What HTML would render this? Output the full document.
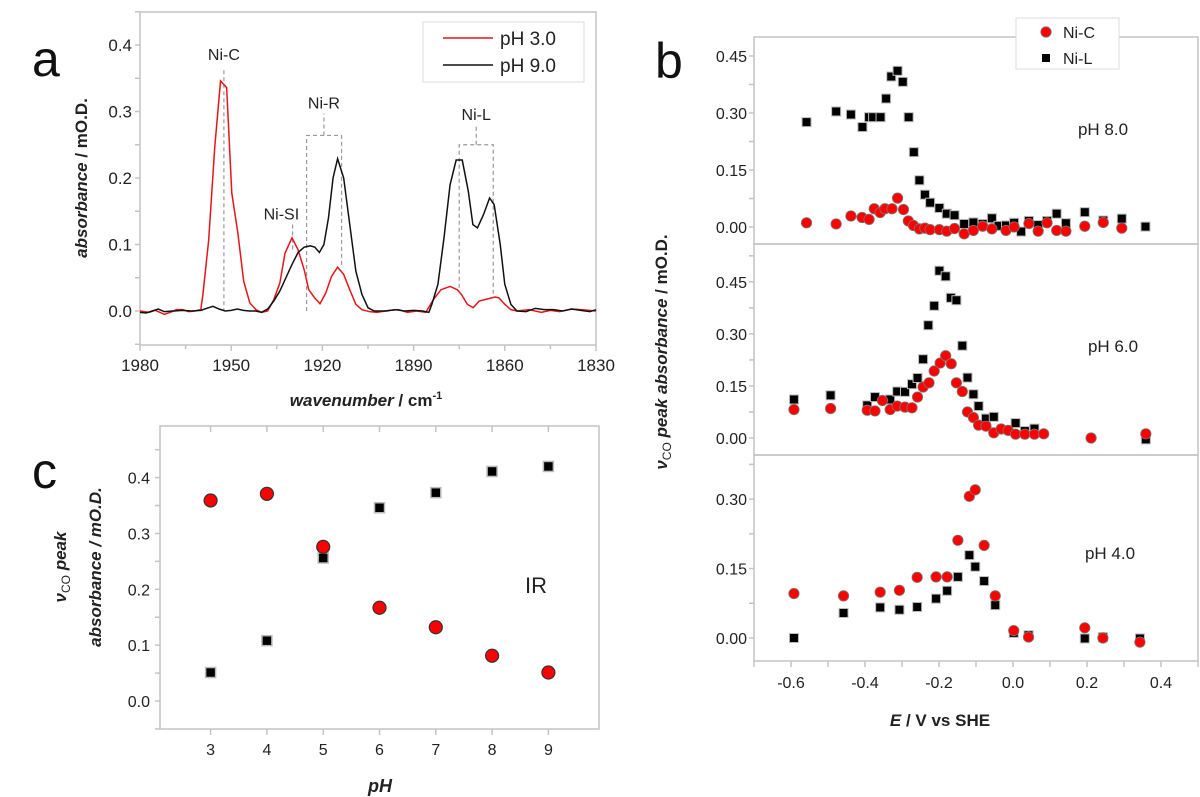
<!DOCTYPE html>
<html><head><meta charset="utf-8"><style>
html,body{margin:0;padding:0;background:#fff;}
svg{display:block;font-family:"Liberation Sans",Arial,sans-serif;}
</style></head><body>
<svg id="fig" width="1200" height="797" viewBox="0 0 1200 797">
<g id="pa"></g>
<g id="pb"></g>
<g id="pc"></g>
</svg>
<script>
// ---------- Panel a data ----------
const wnRed=[1980,1977,1975,1972,1970,1968,1966,1964,1962,1960,1959.3,1957.4,1955.4,1953.5,1951.5,1949.8,1947.8,1945.9,1943.9,1941.9,1940,1938,1936,1934,1932.3,1930,1928,1926,1924.5,1922.6,1920.8,1918.9,1917,1915,1913,1911,1909,1907,1904.5,1902,1898,1895,1892,1889,1886,1883.5,1881,1878,1875.6,1874.3,1872.3,1870.4,1868.4,1865.8,1863.2,1862,1860,1858,1856,1852,1848,1845,1842,1838,1835,1830];
const absRed=[0,-0.002,0.001,-0.005,-0.002,0.002,0.002,-0.001,0,0.002,0.025,0.107,0.247,0.346,0.336,0.177,0.117,0.045,0.0125,0.002,-0.002,0,0.017,0.042,0.087,0.11,0.092,0.062,0.032,0.02,0.011,0.027,0.052,0.066,0.055,0.032,0.01,0.002,-0.001,-0.002,0.001,0.002,-0.002,0,-0.002,0.017,0.032,0.037,0.032,0.025,0.01,0.005,0.015,0.018,0.021,0.02,0.01,0.002,0,0.002,-0.002,0.001,-0.001,0.003,0.002,0];
const wnBlack=[1980,1978,1976,1974,1972,1969,1966,1963,1960,1958,1956,1954,1952,1950,1948,1946,1944,1942,1940,1938,1936,1934,1932,1930,1928,1926,1924,1922.5,1921,1919.5,1918,1916.5,1915,1913,1911,1909,1907,1905,1903,1899,1896,1893,1890,1887,1885,1884,1882,1880,1878,1876,1874,1872,1870.5,1869,1867,1865,1863.5,1861.5,1860,1858,1856,1853,1850,1847,1844,1841,1838,1835,1832,1830];
const absBlack=[-0.002,-0.003,0,0.003,-0.001,0,0.001,0,0.001,0.004,0.007,0.003,0,0.001,0.003,0.001,0,0,-0.002,0.003,0.015,0.03,0.05,0.07,0.088,0.096,0.098,0.096,0.088,0.1,0.14,0.2,0.229,0.2,0.13,0.06,0.025,0.005,0,0,0.002,0,0.001,0,-0.002,0.01,0.04,0.11,0.19,0.227,0.227,0.18,0.13,0.125,0.145,0.17,0.16,0.1,0.04,0.01,0,-0.001,0.004,0.002,0.002,0,0.003,0.001,-0.001,0.002];
const aXTicks=[1980,1950,1920,1890,1860,1830];
const aYTicks=[0.0,0.1,0.2,0.3,0.4];
const aYLabels=["0.0","0.1","0.2","0.3","0.4"];

// ---------- Panel b data ----------
const b8LE=[-0.558,-0.478,-0.438,-0.407,-0.389,-0.378,-0.358,-0.343,-0.329,-0.312,-0.298,-0.282,-0.268,-0.253,-0.238,-0.224,-0.199,-0.179,-0.158,-0.132,-0.107,-0.082,-0.057,-0.039,-0.019,0.003,0.022,0.043,0.068,0.092,0.118,0.143,0.194,0.244,0.294,0.358];
const b8LV=[0.276,0.304,0.296,0.263,0.289,0.289,0.289,0.338,0.396,0.411,0.382,0.289,0.197,0.123,0.085,0.064,0.050,0.035,0.031,0.008,0.012,0.008,0.023,0.003,0.004,0.011,-0.012,0.016,0.005,0.016,0.035,0.010,0.039,0.017,0.022,0.001];
const b8CE=[-0.558,-0.478,-0.438,-0.408,-0.389,-0.375,-0.359,-0.346,-0.327,-0.312,-0.296,-0.283,-0.269,-0.253,-0.238,-0.224,-0.199,-0.179,-0.158,-0.132,-0.107,-0.082,-0.057,-0.019,0.003,0.043,0.068,0.092,0.118,0.143,0.194,0.244,0.294];
const b8CV=[0.011,0.008,0.029,0.025,0.020,0.048,0.038,0.048,0.048,0.076,0.046,0.016,0.004,-0.005,-0.003,-0.007,-0.007,-0.011,-0.004,-0.018,-0.009,0.002,-0.005,-0.009,0,0.009,-0.011,0.011,-0.009,-0.011,0.002,0.012,-0.003];
const b6LE=[-0.592,-0.493,-0.394,-0.373,-0.332,-0.313,-0.292,-0.273,-0.258,-0.243,-0.229,-0.213,-0.199,-0.182,-0.168,-0.153,-0.137,-0.123,-0.107,-0.093,-0.073,-0.052,0.007,0.032,0.058,0.359];
const b6LV=[0.111,0.123,0.094,0.118,0.111,0.134,0.133,0.155,0.173,0.227,0.325,0.381,0.482,0.466,0.404,0.397,0.266,0.174,0.126,0.092,0.056,0.061,0.043,0.020,0.027,-0.004];
const b6CE=[-0.592,-0.493,-0.394,-0.373,-0.353,-0.332,-0.313,-0.292,-0.273,-0.258,-0.243,-0.227,-0.213,-0.197,-0.182,-0.167,-0.153,-0.137,-0.123,-0.107,-0.093,-0.073,-0.052,-0.032,-0.013,0.007,0.032,0.058,0.083,0.211,0.359];
const b6CV=[0.082,0.085,0.080,0.078,0.108,0.082,0.092,0.089,0.087,0.118,0.147,0.159,0.193,0.216,0.237,0.214,0.159,0.134,0.075,0.059,0.037,0.034,0.015,0.026,0.022,0.011,0.011,0.011,0.012,0,0.012];
const b4E=[-0.592,-0.458,-0.359,-0.307,-0.259,-0.208,-0.178,-0.149,-0.118,-0.102,-0.078,-0.048,0.002,0.042,0.194,0.243,0.343];
const b4CV=[0.096,0.091,0.099,0.103,0.131,0.132,0.132,0.211,0.306,0.320,0.200,0.091,0.016,0.002,0.022,0,-0.009];
const b4LV=[0,0.054,0.066,0.061,0.067,0.085,0.102,0.132,0.179,0.154,0.123,0.071,0.011,0.006,-0.001,0.002,-0.001];
const bXTicks=[-0.6,-0.4,-0.2,0.0,0.2,0.4];
const bXLabels=["-0.6","-0.4","-0.2","0.0","0.2","0.4"];
const bYTicks8=[0,0.15,0.30,0.45];
const bYTicks4=[0,0.15,0.30];
const bYLabels=["0.00","0.15","0.30","0.45"];

// ---------- Panel c data ----------
const cPH=[3,4,5,6,7,8,9];
const cNiC=[0.359,0.371,0.276,0.167,0.132,0.081,0.051];
const cNiL=[0.051,0.108,0.256,0.346,0.373,0.411,0.420];
const cYTicks=[0.0,0.1,0.2,0.3,0.4];
const cYLabels=["0.0","0.1","0.2","0.3","0.4"];

const NS="http://www.w3.org/2000/svg";
function mk(parent,tag,attrs,txt){const e=document.createElementNS(NS,tag);for(const k in attrs)e.setAttribute(k,attrs[k]);if(txt!==undefined)e.textContent=txt;parent.appendChild(e);return e;}
const GRAY="#c4c4c4", TXT="#222";

// ===== Panel a =====
(function(){
const g=document.getElementById('pa');
const L=140,R=596,T=12,B=345;
const x=w=>L+(1980-w)/150*(R-L);
const y=v=>311-v*665;
const fr=mk(g,'rect',{x:L,y:T,width:R-L,height:B-T,fill:'none',stroke:GRAY,'stroke-width':1.5});

for(let w=1980;w>=1830;w-=15){const major=(w%30===0);mk(g,'line',{x1:x(w),x2:x(w),y1:B,y2:B+(major?6:4),stroke:GRAY,'stroke-width':1.5});}
aXTicks.forEach(w=>{const t=mk(g,'text',{x:x(w),y:B+26,'text-anchor':'middle','font-size':17,fill:TXT},String(w));
});
for(let v=-0.05;v<=0.451;v+=0.05){mk(g,'line',{x1:L-5,x2:L,y1:y(v),y2:y(v),stroke:GRAY,'stroke-width':1.5});}
aYTicks.forEach((v,i)=>{const t=mk(g,'text',{x:L-8,y:y(v)+6,'text-anchor':'end','font-size':17,fill:TXT},aYLabels[i]);
});
// annotation dashes
const dash={stroke:'#999','stroke-width':1.2,'stroke-dasharray':'4,3',fill:'none'};
const a1=mk(g,'path',Object.assign({d:`M${x(1952.4)},${y(0.362)}V${y(0)}`},dash));
const a2=mk(g,'path',Object.assign({d:`M${x(1929.8)},${y(0.13)}V${y(0.09)}`},dash));
const a3=mk(g,'path',Object.assign({d:`M${x(1925.2)},${y(0)}V${y(0.264)}H${x(1913.7)}V${y(0.065)}M${x(1919.5)},${y(0.264)}V${y(0.297)}`},dash));
const a4=mk(g,'path',Object.assign({d:`M${x(1875)},${y(0.035)}V${y(0.25)}H${x(1863.8)}V${y(0.02)}M${x(1869.4)},${y(0.25)}V${y(0.28)}`},dash));
const labs=[["Ni-C",1952.4,0.385],["Ni-SI",1933.5,0.145],["Ni-R",1919.5,0.312],["Ni-L",1869.4,0.295]];
labs.forEach(l=>{const t=mk(g,'text',{x:x(l[1]),y:y(l[2])+5,'text-anchor':'middle','font-size':16,fill:TXT},l[0]);
});
const pr=mk(g,'polyline',{points:wnRed.map((w,i)=>x(w)+','+y(absRed[i])).join(' '),fill:'none',stroke:'#e8141a','stroke-width':1.5});

const pbk=mk(g,'polyline',{points:wnBlack.map((w,i)=>x(w)+','+y(absBlack[i])).join(' '),fill:'none',stroke:'#111','stroke-width':1.5});

// legend
const lg=mk(g,'g',{});
mk(lg,'rect',{x:423,y:22,width:161,height:60,fill:'#fff',stroke:'#ddd','stroke-width':1});
mk(lg,'line',{x1:443,x2:493,y1:38,y2:38,stroke:'#e8141a','stroke-width':1.6});
mk(lg,'line',{x1:443,x2:493,y1:65,y2:65,stroke:'#111','stroke-width':1.6});
const l1=mk(lg,'text',{x:500,y:45,'font-size':19,fill:TXT},'pH 3.0');
const l2=mk(lg,'text',{x:500,y:72,'font-size':19,fill:TXT},'pH 9.0');
const yt=mk(g,'text',{transform:'translate(87,178) rotate(-90)','text-anchor':'middle','font-size':17,'font-weight':'bold',fill:TXT});

mk(yt,'tspan',{'font-style':'italic'},'absorbance');mk(yt,'tspan',{},' / mO.D.');
const xt=mk(g,'text',{x:366,y:406,'text-anchor':'middle','font-size':17,'font-weight':'bold',fill:TXT});

mk(xt,'tspan',{'font-style':'italic'},'wavenumber');mk(xt,'tspan',{},' / cm');mk(xt,'tspan',{'font-size':11,dy:-7},'-1');
const pl=mk(g,'text',{x:32,y:76,'font-size':50,fill:'#111'},'a');
})();

// ===== Panel b =====
(function(){
const g=document.getElementById('pb');
const L=754,R=1198;
const x=e=>1013+e*370;
const panels=[
 {top:37,bot:244,zero:227,sc:380,ticks:bYTicks8,lab:'pH 8.0',ly:135,lx:1103,L:[b8LE,b8LV],C:[b8CE,b8CV],name:'ph8'},
 {top:244,bot:455,zero:438,sc:347,ticks:bYTicks8,lab:'pH 6.0',ly:352,lx:1113,L:[b6LE,b6LV],C:[b6CE,b6CV],name:'ph6'},
 {top:455,bot:661,zero:638,sc:463,ticks:bYTicks4,lab:'pH 4.0',ly:559,lx:1110,L:[b4E,b4LV],C:[b4E,b4CV],name:'ph4'}];
panels.forEach(p=>{
 const y=v=>p.zero-v*p.sc;
 const pg=mk(g,'g',{});
 mk(pg,'rect',{x:L,y:p.top,width:R-L,height:p.bot-p.top,fill:'none',stroke:GRAY,'stroke-width':1.5});
 for(let v=0;y(v)>p.top+2;v+=0.075){mk(pg,'line',{x1:L-5,x2:L,y1:y(v),y2:y(v),stroke:GRAY,'stroke-width':1.5});}
 p.ticks.forEach((v,i)=>{const t=mk(pg,'text',{x:L-7,y:y(v)+6,'text-anchor':'end','font-size':16,fill:TXT},bYLabels[i]);
  });
 const lt=mk(pg,'text',{x:p.lx,y:p.ly,'text-anchor':'middle','font-size':17,fill:TXT},p.lab);
 
 p.L[0].forEach((e,i)=>{const r=mk(pg,'rect',{x:x(e)-4.5,y:y(p.L[1][i])-4.5,width:9,height:9,fill:'#000',stroke:'#bbb','stroke-width':1});
  });
 p.C[0].forEach((e,i)=>{const c=mk(pg,'circle',{cx:x(e),cy:y(p.C[1][i]),r:5.2,fill:'#f00',stroke:'#777','stroke-width':0.8});
  });
});
for(let e=-0.7;e<=0.5001;e+=0.1){mk(g,'line',{x1:x(e),x2:x(e),y1:661,y2:667,stroke:GRAY,'stroke-width':1.5});}
bXTicks.forEach((e,i)=>{const t=mk(g,'text',{x:x(e),y:688,'text-anchor':'middle','font-size':16,fill:TXT},bXLabels[i]);
 });
const xt=mk(g,'text',{x:940,y:726,'text-anchor':'middle','font-size':17,'font-weight':'bold',fill:TXT});

mk(xt,'tspan',{'font-style':'italic'},'E');mk(xt,'tspan',{},' / V vs SHE');
const yt=mk(g,'text',{transform:'translate(667,352) rotate(-90)','text-anchor':'middle','font-size':17,'font-weight':'bold',fill:TXT});

mk(yt,'tspan',{'font-style':'italic'},'ν');mk(yt,'tspan',{'font-size':12,dy:4,'font-weight':'normal'},'CO');mk(yt,'tspan',{dy:-4,'font-style':'italic'},' peak absorbance');mk(yt,'tspan',{},' / mO.D.');
const lg=mk(g,'g',{});
mk(lg,'rect',{x:1016,y:18,width:103,height:51,fill:'#fff',stroke:'#ddd','stroke-width':1});
mk(lg,'circle',{cx:1046,cy:32,r:5.2,fill:'#f00',stroke:'#777','stroke-width':0.8});
mk(lg,'rect',{x:1042,y:54,width:8,height:8,fill:'#000'});
const e1=mk(lg,'text',{x:1063,y:38,'font-size':16,fill:TXT},'Ni-C');
const e2=mk(lg,'text',{x:1063,y:64,'font-size':16,fill:TXT},'Ni-L');
const pl=mk(g,'text',{x:655,y:78,'font-size':50,fill:'#111'},'b');
})();

// ===== Panel c =====
(function(){
const g=document.getElementById('pc');
const L=160,R=599,T=426,B=729;
const x=p=>210.6+(p-3)*56.3;
const y=v=>701-v*558.5;
mk(g,'rect',{x:L,y:T,width:R-L,height:B-T,fill:'none',stroke:GRAY,'stroke-width':1.5});
cPH.forEach(p=>{mk(g,'line',{x1:x(p),x2:x(p),y1:B,y2:B+6,stroke:GRAY,'stroke-width':1.5});
 mk(g,'line',{x1:x(p),x2:x(p),y1:T,y2:T+6,stroke:GRAY,'stroke-width':1.5});
 const t=mk(g,'text',{x:x(p),y:B+26,'text-anchor':'middle','font-size':16,fill:TXT},String(p));
 });
for(let v=-0.05;v<=0.451;v+=0.05){mk(g,'line',{x1:L-5,x2:L,y1:y(v),y2:y(v),stroke:GRAY,'stroke-width':1.5});}
cYTicks.forEach((v,i)=>{const t=mk(g,'text',{x:L-10,y:y(v)+6,'text-anchor':'end','font-size':16,fill:TXT},cYLabels[i]);
 });
cPH.forEach((p,i)=>{const r=mk(g,'rect',{x:x(p)-5,y:y(cNiL[i])-5,width:10,height:10,fill:'#000',stroke:'#bbb','stroke-width':1.5});
 });
cPH.forEach((p,i)=>{const c=mk(g,'circle',{cx:x(p),cy:y(cNiC[i]),r:6.5,fill:'#f00',stroke:'#333','stroke-width':1.2});
 });
const ir=mk(g,'text',{x:536,y:593,'text-anchor':'middle','font-size':22,fill:TXT},'IR');
const y1=mk(g,'text',{transform:'translate(66,567) rotate(-90)','text-anchor':'middle','font-size':17,'font-weight':'bold',fill:TXT});

mk(y1,'tspan',{'font-style':'italic'},'ν');mk(y1,'tspan',{'font-size':12,dy:4,'font-weight':'normal'},'CO');mk(y1,'tspan',{dy:-4,'font-style':'italic'},' peak');
const y2=mk(g,'text',{transform:'translate(101,567) rotate(-90)','text-anchor':'middle','font-size':17,'font-weight':'bold','font-style':'italic',fill:TXT},'absorbance / mO.D.');

const xt=mk(g,'text',{x:380,y:792,'text-anchor':'middle','font-size':18,'font-weight':'bold','font-style':'italic',fill:TXT},'pH');

const pl=mk(g,'text',{x:32,y:488,'font-size':50,fill:'#111'},'c');
})();
</script>
</body></html>
